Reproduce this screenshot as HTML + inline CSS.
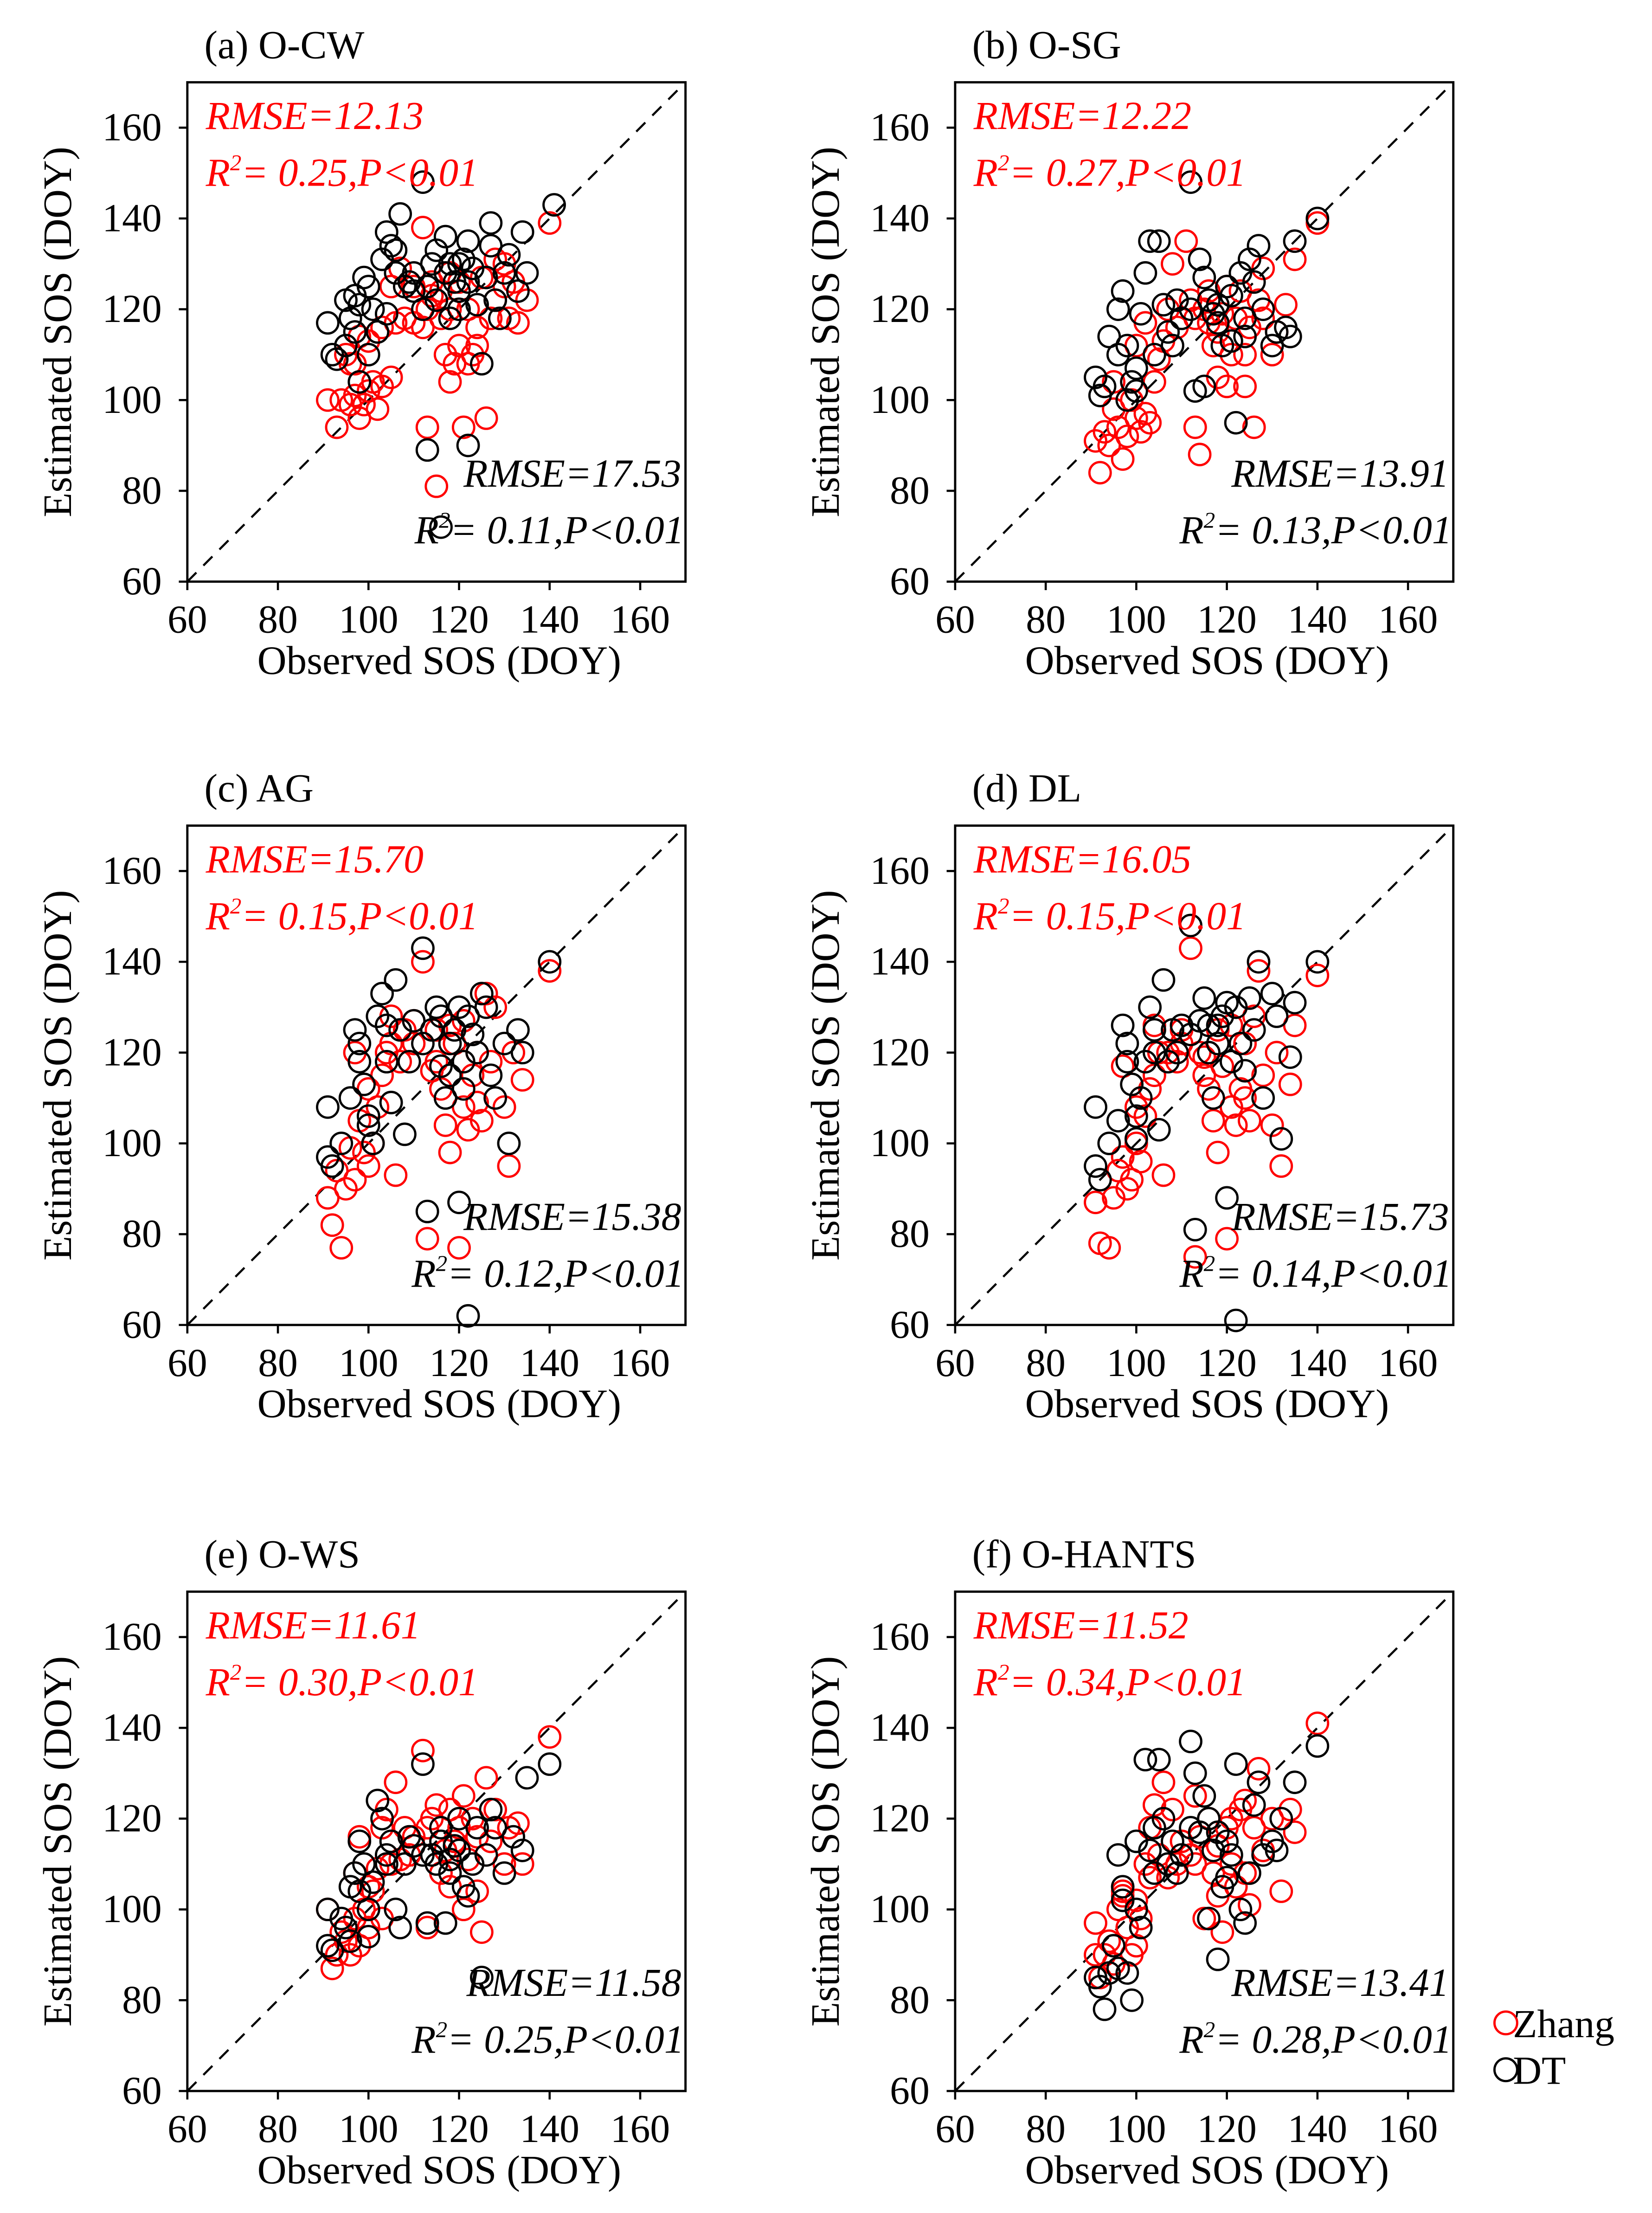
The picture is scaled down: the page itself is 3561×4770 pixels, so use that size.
<!DOCTYPE html>
<html><head><meta charset="utf-8">
<style>
html,body{margin:0;padding:0;background:#fff;}
svg{display:block;}
text{font-family:"Liberation Serif",serif;}
</style></head>
<body>
<svg id="fig" width="3561" height="4770" viewBox="0 0 1164 1560" preserveAspectRatio="none" xmlns="http://www.w3.org/2000/svg"></svg>
<script>
const panelTitles = ["(a) O-CW","(b) O-SG","(c) AG","(d) DL","(e) O-WS","(f) O-HANTS"];
const zhangStats = [["RMSE=12.13","0.25"],["RMSE=12.22","0.27"],["RMSE=15.70","0.15"],["RMSE=16.05","0.15"],["RMSE=11.61","0.30"],["RMSE=11.52","0.34"]];
const dtStats = [["RMSE=17.53","0.11"],["RMSE=13.91","0.13"],["RMSE=15.38","0.12"],["RMSE=15.73","0.14"],["RMSE=11.58","0.25"],["RMSE=13.41","0.28"]];
const tickValues = [60,80,100,120,140,160];
const zhangA = [[91,100],[93,94],[94,100],[96,99],[97,101],[98,96],[99,99],[100,102],[101,104],[103,103],[105,105],[102,98],[95,110],[97,108],[100,113],[103,116],[106,117],[108,118],[110,117],[112,116],[113,94],[113,120],[114,123],[115,81],[116,118],[117,110],[118,104],[119,108],[120,112],[121,94],[122,108],[123,110],[124,112],[126,96],[127,118],[128,122],[130,125],[131,118],[133,117],[135,122],[140,139],[112,138],[118,128],[120,126],[122,120],[125,127],[128,131],[110,125],[105,125],[107,129],[96,108],[98,114],[118,120],[116,124],[124,116],[130,130],[132,126],[114,126]];
const dtA = [[91,117],[92,110],[93,109],[95,112],[96,118],[97,123],[98,121],[99,127],[100,125],[101,120],[102,115],[103,131],[104,137],[105,134],[106,128],[107,141],[108,125],[110,124],[112,148],[113,89],[113,125],[114,130],[115,133],[116,72],[117,128],[118,130],[119,126],[120,124],[121,131],[122,90],[122,135],[123,129],[124,121],[125,108],[126,127],[127,139],[128,122],[130,128],[131,132],[133,124],[134,137],[135,128],[141,143],[100,110],[98,104],[97,115],[104,119],[106,133],[109,126],[115,122],[118,118],[120,120],[122,126],[127,134],[129,118],[117,136],[95,122],[110,128],[112,120],[120,130]];
const zhangB = [[91,91],[92,84],[93,93],[94,90],[95,98],[96,94],[97,87],[98,92],[99,100],[100,96],[101,93],[102,97],[103,95],[104,104],[105,109],[106,113],[107,120],[109,116],[110,118],[111,135],[112,122],[113,94],[114,88],[115,120],[116,117],[117,112],[118,115],[119,119],[120,103],[121,110],[122,118],[123,124],[124,103],[125,116],[126,94],[127,122],[128,118],[130,110],[131,115],[133,121],[135,131],[140,139],[118,105],[108,130],[120,125],[128,129],[95,104],[102,117],[100,112],[113,118],[116,124],[124,110]];
const dtB = [[91,105],[92,101],[93,103],[94,114],[96,110],[97,124],[98,112],[99,104],[100,107],[101,119],[102,128],[103,135],[104,110],[105,135],[106,121],[107,115],[108,112],[110,118],[112,148],[113,102],[114,131],[115,103],[116,122],[117,119],[118,117],[119,112],[120,125],[121,123],[122,95],[123,128],[124,114],[125,131],[126,126],[127,134],[128,120],[130,112],[131,115],[133,116],[134,114],[135,135],[140,140],[98,100],[100,102],[112,120],[115,127],[118,121],[121,113],[124,118],[109,122],[96,120]];
const zhangC = [[91,88],[92,82],[93,94],[94,77],[95,90],[96,99],[97,92],[98,105],[99,98],[100,95],[101,100],[102,108],[103,115],[104,120],[105,122],[106,93],[107,118],[108,125],[110,122],[112,140],[113,79],[114,116],[115,125],[116,112],[117,104],[118,98],[119,122],[120,77],[121,108],[122,103],[123,115],[124,120],[125,105],[126,133],[127,118],[128,130],[130,108],[131,95],[132,120],[134,114],[140,138],[97,120],[100,112],[110,127],[118,126],[121,127],[124,109],[115,118],[105,128]];
const dtC = [[91,108],[91,97],[92,95],[94,100],[96,110],[97,125],[98,122],[99,113],[100,104],[101,100],[102,128],[103,133],[104,118],[105,109],[106,136],[107,125],[108,102],[110,127],[112,143],[113,85],[114,125],[115,130],[116,117],[117,110],[118,115],[119,125],[120,87],[121,118],[122,62],[122,128],[123,124],[124,120],[125,133],[126,130],[127,115],[128,110],[130,122],[131,100],[133,125],[134,120],[140,140],[98,118],[100,106],[104,126],[112,122],[116,128],[118,122],[120,130],[109,118],[121,112]];
const zhangD = [[91,87],[92,78],[94,77],[95,88],[96,94],[97,97],[98,90],[99,92],[100,100],[101,96],[102,106],[103,112],[104,115],[105,120],[106,93],[107,120],[109,118],[110,125],[112,143],[113,75],[114,120],[115,115],[116,112],[117,105],[118,98],[119,117],[120,79],[121,108],[122,104],[123,112],[124,122],[125,105],[126,128],[127,138],[128,115],[130,104],[131,120],[132,95],[134,113],[135,126],[140,137],[97,117],[100,108],[110,122],[118,125],[121,126],[124,110],[115,119],[104,126]];
const dtD = [[91,108],[91,95],[92,92],[94,100],[96,105],[97,126],[98,122],[99,113],[100,101],[101,110],[102,118],[103,130],[104,120],[105,103],[106,136],[107,118],[108,125],[110,126],[112,148],[113,81],[114,127],[115,132],[116,120],[117,110],[118,122],[119,128],[120,88],[121,118],[122,61],[122,130],[123,122],[124,116],[125,132],[126,125],[127,140],[128,110],[130,133],[131,128],[132,101],[134,119],[135,131],[140,140],[98,118],[100,106],[104,125],[112,124],[116,126],[118,126],[120,131],[109,120]];
const zhangE = [[91,100],[92,87],[93,90],[94,95],[95,93],[96,90],[97,98],[98,92],[99,100],[100,96],[101,104],[102,109],[103,118],[104,122],[105,110],[106,128],[107,111],[109,112],[110,116],[112,135],[113,96],[114,120],[115,123],[116,108],[117,113],[118,105],[119,115],[120,118],[121,100],[122,111],[123,120],[124,104],[125,95],[126,129],[127,115],[128,122],[130,110],[131,118],[133,119],[134,110],[140,138],[97,108],[100,105],[108,118],[118,122],[121,125],[124,116],[113,118],[103,98],[98,116]];
const dtE = [[91,100],[91,92],[92,91],[94,98],[95,96],[96,105],[97,108],[98,115],[99,110],[100,94],[101,106],[102,124],[103,120],[104,112],[105,115],[106,100],[107,96],[108,110],[110,114],[112,132],[113,97],[114,112],[115,110],[116,118],[117,97],[118,108],[119,114],[120,120],[121,105],[122,103],[123,110],[124,118],[125,85],[126,112],[127,122],[128,118],[130,108],[132,116],[134,113],[135,129],[140,132],[98,104],[100,100],[104,110],[112,112],[116,115],[118,111],[120,113],[109,116],[96,93]];
const zhangF = [[91,97],[91,90],[92,85],[93,90],[94,93],[95,88],[96,100],[97,103],[98,96],[99,90],[100,92],[101,98],[102,110],[103,118],[104,123],[105,112],[106,128],[107,107],[109,110],[110,115],[112,112],[113,110],[114,116],[115,98],[116,120],[117,108],[118,103],[119,95],[120,118],[121,110],[122,105],[123,122],[124,108],[125,101],[126,118],[127,131],[128,113],[130,120],[132,104],[134,122],[135,117],[140,141],[97,104],[100,102],[108,122],[118,114],[121,120],[124,124],[113,125],[103,107]];
const dtF = [[91,85],[92,83],[93,78],[94,86],[95,92],[96,112],[97,105],[98,86],[99,80],[100,115],[101,96],[102,133],[103,113],[104,108],[105,133],[106,120],[107,110],[108,115],[110,112],[112,137],[113,130],[114,117],[115,125],[116,98],[117,113],[118,89],[119,105],[120,115],[121,112],[122,132],[123,100],[124,97],[125,108],[126,123],[127,128],[128,112],[130,115],[131,113],[132,120],[135,128],[140,136],[97,102],[100,100],[104,118],[112,118],[116,120],[118,117],[120,107],[109,108],[96,87]];
const zhangSeries = [zhangA,zhangB,zhangC,zhangD,zhangE,zhangF];
const dtSeries = [dtA,dtB,dtC,dtD,dtE,dtF];

const NS="http://www.w3.org/2000/svg";
const svg=document.getElementById('fig');
function mk(tag,attrs,parent){const e=document.createElementNS(NS,tag);for(const k in attrs)e.setAttribute(k,attrs[k]);(parent||svg).appendChild(e);return e;}
const boxLefts=[132,673], boxTops=[58,582,1122], W=351, H=352, vmin=60, vmax=170;
const keys=['a','b','c','d','e','f'];
for(let p=0;p<6;p++){
  const L=boxLefts[p%2], T=boxTops[Math.floor(p/2)];
  const sx=v=>L+(v-vmin)/(vmax-vmin)*W;
  const sy=v=>T+H-(v-vmin)/(vmax-vmin)*H;
  const g=mk('g',{});
  
  
  const t=mk('text',{x:L+12,y:T-17,'font-size':28},g);t.textContent=panelTitles[p];
  
  
  const diag=mk('line',{x1:sx(vmin),y1:sy(vmin),x2:sx(vmax),y2:sy(vmax),stroke:'#000','stroke-width':1.5,'stroke-dasharray':'9,7'},g);
  
  
  tickValues.forEach(v=>{
    mk('line',{x1:sx(v),y1:T+H,x2:sx(v),y2:T+H+6,stroke:'#000','stroke-width':1.5},g);
    const xt=mk('text',{x:sx(v),y:T+H+36,'font-size':28,'text-anchor':'middle'},g);xt.textContent=v;
    
    
    mk('line',{x1:L-6,y1:sy(v),x2:L,y2:sy(v),stroke:'#000','stroke-width':1.5},g);
    const yt=mk('text',{x:L-18,y:sy(v)+9,'font-size':28,'text-anchor':'end'},g);yt.textContent=v;
    
    
  });
  const xa=mk('text',{x:L+W/2+2,y:T+H+65,'font-size':28.5,'text-anchor':'middle'},g);xa.textContent='Observed SOS (DOY)';
  
  
  const ya=mk('text',{x:0,y:0,'font-size':28.5,'text-anchor':'middle',transform:`translate(${L-82},${T+H/2}) rotate(-90)`},g);ya.textContent='Estimated SOS (DOY)';
  
  
  const series=[[zhangSeries[p],'#ff0000','zhang'],[dtSeries[p],'#000','dt']];
  series.forEach(([pts,col,nm])=>{
    pts.forEach(([x,y])=>{
      const c=mk('circle',{cx:sx(x),cy:sy(y),r:7.5,fill:'none',stroke:col,'stroke-width':1.6},g);
      
      
    });
  });
  const zs1=mk('text',{x:L+13,y:T+33,'font-size':28,'font-style':'italic',fill:'#ff0000'},g);zs1.textContent=zhangStats[p][0];
  
  
  const zs2=mk('text',{x:L+13,y:T+73,'font-size':28,'font-style':'italic',fill:'#ff0000'},g);
  zs2.innerHTML='R<tspan dy="-11" font-size="16">2</tspan><tspan dy="11">= '+zhangStats[p][1]+',P&lt;0.01</tspan>';
  
  
  const ds1=mk('text',{x:L+W-3,y:T+285,'font-size':28,'font-style':'italic','text-anchor':'end'},g);ds1.textContent=dtStats[p][0];
  
  
  const ds2=mk('text',{x:L+W-1,y:T+325,'font-size':28,'font-style':'italic','text-anchor':'end'},g);
  ds2.innerHTML='R<tspan dy="-11" font-size="16">2</tspan><tspan dy="11">= '+dtStats[p][1]+',P&lt;0.01</tspan>';
  
  
  const box=mk('rect',{x:L,y:T,width:W,height:H,fill:'none',stroke:'#000','stroke-width':1.6},g);
  
  
}
const lg=mk('g',{});


const legendNames=['Zhang','DT'], legendCols=['#ff0000','#000'];
legendNames.forEach((n,i)=>{
  const y=1426+i*33;
  const c=mk('circle',{cx:1061,cy:y,r:8,fill:'none',stroke:legendCols[i],'stroke-width':1.6},lg);
  
  
  const t=mk('text',{x:1066,y:y+10,'font-size':28},lg);t.textContent=n;
  
  
});
</script>
</body></html>
